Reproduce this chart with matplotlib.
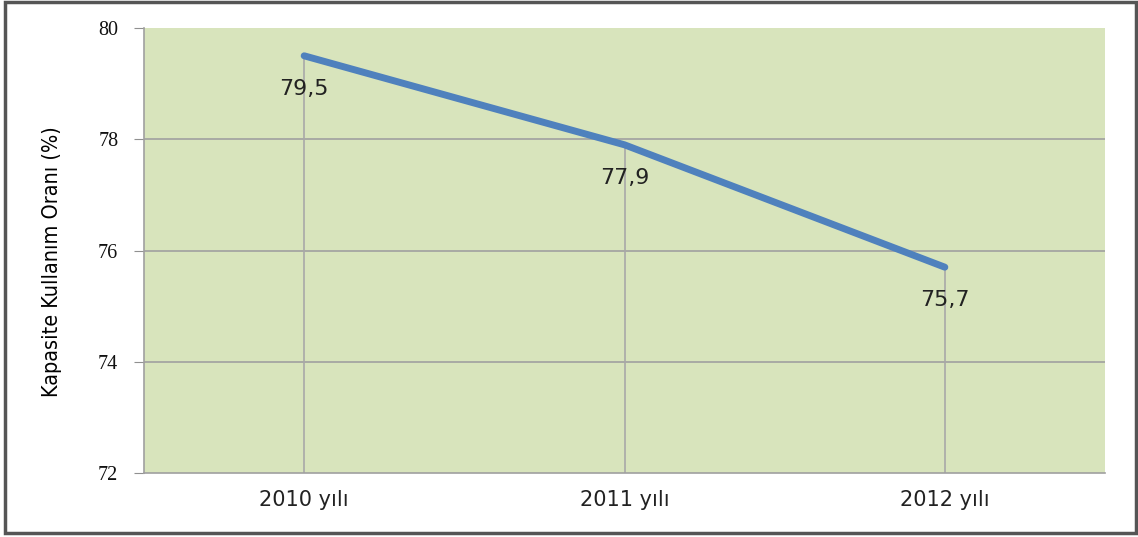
import matplotlib
matplotlib.use("Agg")
import matplotlib.pyplot as plt
from matplotlib.patches import Rectangle

categories = ["2010 yılı", "2011 yılı", "2012 yılı"]
values = [79.5, 77.9, 75.7]
labels = ["79,5", "77,9", "75,7"]
yticks = [72, 74, 76, 78, 80]

fig = plt.figure(figsize=(11.38, 5.37), dpi=100)
ax = fig.add_axes([144/1138, 1-473/537, (1105-144)/1138, (473-28)/537])
ax.set_facecolor("#D8E4BC")
ax.set_xlim(-0.5, 2.5)
ax.set_ylim(72, 80)
ax.set_yticks(yticks)
ax.set_yticklabels([str(t) for t in yticks], family="Liberation Serif", fontsize=14.5, color="#111111")
ax.set_xticks(range(len(categories)))
ax.set_xticklabels(categories, family="DejaVu Sans", fontsize=15, color="#222222")
ax.tick_params(axis="x", length=0, pad=12)
ax.tick_params(axis="y", length=7.5, color="#909090", pad=11)
for t in yticks[1:-1]:
    ax.axhline(t, color="#A0A0A0", lw=1.2, zorder=1)
for i, v in enumerate(values):
    ax.vlines(i, 72, v, color="#A8A8A8", lw=1.2, zorder=1)
for s in ["top", "right"]:
    ax.spines[s].set_visible(False)
ax.spines["left"].set_color("#A0A0A0")
ax.spines["bottom"].set_color("#A0A0A0")
ax.spines["left"].set_linewidth(1.2)
ax.spines["bottom"].set_linewidth(1.2)
ax.plot(range(len(values)), values, color="#4F81BD", lw=5, zorder=3, solid_capstyle="round")
for i, (v, l) in enumerate(zip(values, labels)):
    ax.annotate(l, (i, v), xytext=(0, -33), textcoords="offset pixels",
                ha="center", va="center", fontsize=16, color="#222222", family="DejaVu Sans")
ax.set_ylabel("Kapasite Kullanım Oranı (%)", family="DejaVu Sans", fontstretch="condensed",
              fontsize=15.5, labelpad=24)
ax.yaxis.set_label_coords(-0.085, 0.475)

fig.patches.append(Rectangle((5/1138, 4/537), 1131/1138, 531/537, transform=fig.transFigure,
                             fill=False, edgecolor="#555555", lw=2.5))
fig.savefig("out.png", dpi=100)
